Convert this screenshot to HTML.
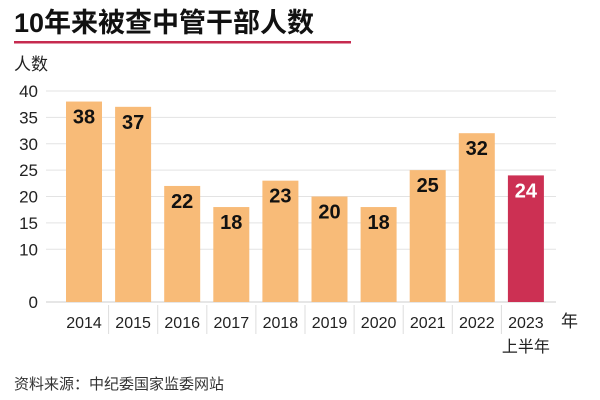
<!DOCTYPE html>
<html><head><meta charset="utf-8"><style>
body{margin:0;background:#fff;}
svg{display:block;font-family:"Liberation Sans","Noto Sans CJK SC",sans-serif;}
</style></head><body>
<svg id="chart" width="600" height="400">
<text x="14" y="32" font-size="27" font-weight="bold" fill="#111">10年来被查中管干部人数</text>
<rect x="14" y="41" width="337" height="2.5" fill="#c62a4f"/>
<text x="14" y="70" font-size="17" fill="#222">人数</text>
<g id="grid"></g><g id="bars"></g><g id="xlab"></g>
<text x="561" y="327" font-size="17" fill="#222">年</text>
<text x="14" y="389" font-size="15" fill="#333">资料来源：中纪委国家监委网站</text>
</svg>
<script>
const categories=["2014","2015","2016","2017","2018","2019","2020","2021","2022","2023"];
const values=[38,37,22,18,23,20,18,25,32,24];
const tickValues=[0,10,15,20,25,30,35,40];
const NS="http://www.w3.org/2000/svg";
const y0=302,y40=91;
const y=v=>y0-(y0-y40)*v/40;
const x=i=>84+i*49.1;
function mk(t,a,p){const e=document.createElementNS(NS,t);for(const k in a)e.setAttribute(k,a[k]);p.appendChild(e);return e;}
const g=document.getElementById('grid'),b=document.getElementById('bars'),xl=document.getElementById('xlab');
tickValues.forEach(v=>{
 const l=mk('line',{x1:46,x2:556,y1:y(v),y2:y(v),stroke:v===0?'#ccc':'#e3e3e3','stroke-width':1},g);
 
 
 const t=mk('text',{x:38,y:y(v)+6,'text-anchor':'end','font-size':17,fill:'#222'},g);
 t.textContent=v;
 
 
});
categories.forEach((c,i)=>{
 const last=i===categories.length-1;
 const r=mk('rect',{x:x(i)-18,y:y(values[i]),width:36,height:y0-y(values[i]),fill:last?'#cc3053':'#f8bb78'},b);
 
 
 const t=mk('text',{x:x(i),y:y(values[i])+22,'text-anchor':'middle','font-size':20,'font-weight':'bold',fill:last?'#fff':'#111'},b);
 t.textContent=values[i];
 
 
 const s=mk('text',{x:x(i),y:328,'text-anchor':'middle','font-size':16,fill:'#222'},xl);
 s.textContent=c;
 
 
 if(i>0){const d=mk('line',{x1:x(i)-24.5,x2:x(i)-24.5,y1:305,y2:334,stroke:'#ddd'},xl);
 
 }
});
const h=mk('text',{x:x(9),y:352,'text-anchor':'middle','font-size':16,fill:'#222'},xl);
h.textContent='上半年';


</script>
</body></html>
